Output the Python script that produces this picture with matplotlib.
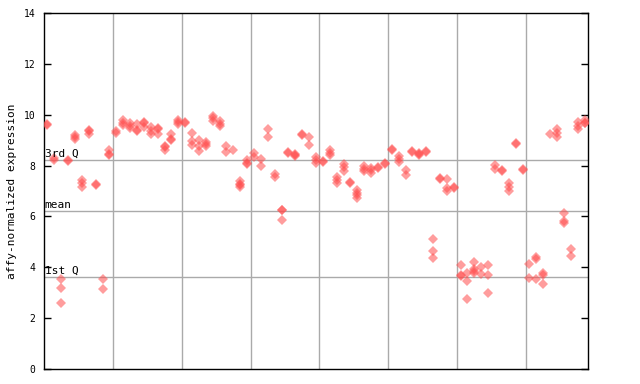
import matplotlib
matplotlib.use("Agg")
import matplotlib.pyplot as plt

# Constants

RED = '#ff4d4d'
GRID = '#aaaaaa'
MONO = 'DejaVu Sans Mono'

# Expression values per sample (one list per column)

sample_values = [
    [9.65, 9.6], [8.3, 8.2], [3.53, 3.17, 2.6], [8.2, 8.18],
    [9.2, 9.14, 9.05], [7.43, 7.3, 7.15], [9.4, 9.36, 9.25], [7.27, 7.23],
    [3.53, 3.13], [8.61, 8.45, 8.42], [9.35, 9.3], [9.79, 9.68, 9.6],
    [9.68, 9.55, 9.46], [9.62, 9.38, 9.36], [9.71, 9.68, 9.53],
    [9.53, 9.37, 9.23], [9.47, 9.44, 9.23], [8.76, 8.72, 8.61],
    [9.24, 9.05, 9.02], [9.8, 9.72, 9.63], [9.72, 9.68],
    [9.27, 8.98, 8.81], [9.0, 8.77, 8.57], [8.94, 8.85, 8.77],
    [9.95, 9.86, 9.77], [9.74, 9.65, 9.56], [8.77, 8.55], [8.61],
    [7.39, 7.27, 7.25, 7.14], [8.22, 8.1, 8.08], [8.51, 8.32],
    [8.27, 7.98], [9.42, 9.11], [7.67, 7.54], [6.27, 6.25, 5.86],
    [8.55, 8.51], [8.45, 8.4, 8.38], [9.23, 9.19], [9.11, 8.79],
    [8.32, 8.2, 8.09], [8.17, 8.13], [8.61, 8.5, 8.42],
    [7.56, 7.43, 7.3], [8.06, 7.93, 7.79], [7.37, 7.33],
    [7.04, 6.92, 6.85, 6.71], [7.98, 7.88, 7.79], [7.92, 7.82, 7.72],
    [7.95, 7.9], [8.09, 8.06], [8.67, 8.63], [8.37, 8.26, 8.15],
    [7.83, 7.63], [8.58, 8.54], [8.5, 8.46, 8.4], [8.59, 8.55],
    [5.1, 4.64, 4.35], [7.5, 7.46], [7.49, 7.1, 7.01], [7.16, 7.12],
    [4.09, 3.69, 3.65], [3.76, 3.45, 2.74], [4.19, 3.92, 3.85, 3.79],
    [4.0, 3.74], [4.09, 3.68, 2.98], [8.04, 7.88], [7.81, 7.77],
    [7.3, 7.15, 7.01], [8.87, 8.83], [7.85, 7.81], [4.11, 3.56],
    [4.42, 4.31, 3.53], [3.76, 3.7, 3.34], [9.23], [9.42, 9.3, 9.14],
    [6.12, 5.83, 5.73], [4.71, 4.44], [9.7, 9.57, 9.44],
    [9.79, 9.69, 9.66],
]

# Summary lines across all samples

summary_lines = [('3rd Q', 8.22), ('mean', 6.2), ('1st Q', 3.62)]
y_ticks = [0, 2, 4, 6, 8, 10, 12, 14]
group_size = 10


def plot_samples(ax):
    for i, values in enumerate(sample_values):
        ax.plot([i + 0.5] * len(values), values, linestyle='none',
                marker='D', markersize=4.8, markeredgewidth=0,
                color=RED, alpha=0.55, zorder=3)


def main():
    fig = plt.figure(figsize=(6.4, 3.84), dpi=100)
    ax = fig.add_axes([44 / 640, 15 / 384, 544 / 640, 356 / 384])

    n = len(sample_values)
    ax.set_xlim(0, n)
    ax.set_ylim(0, 14)

    # vertical separators every group of samples
    for x in range(group_size, n, group_size):
        ax.axvline(x, color=GRID, linewidth=1, zorder=1)

    # quartile / mean lines with labels
    for label, y in summary_lines:
        ax.axhline(y, color=GRID, linewidth=1, zorder=1)
        ax.text(0.1, y + 0.06, label, fontsize=8, family=MONO,
                ha='left', va='bottom', zorder=4)

    plot_samples(ax)

    ax.set_xticks([])
    ax.set_yticks(y_ticks)
    ax.set_yticklabels([str(t) for t in y_ticks], family=MONO, fontsize=7)
    ax.tick_params(axis='y', direction='in', length=5, width=1,
                   right=True, pad=6)
    for spine in ax.spines.values():
        spine.set_linewidth(1)
    ax.set_ylabel('affy-normalized expression', family=MONO, fontsize=8,
                  labelpad=5)

    fig.savefig('out.png', dpi=100)


if __name__ == "__main__":
    main()
